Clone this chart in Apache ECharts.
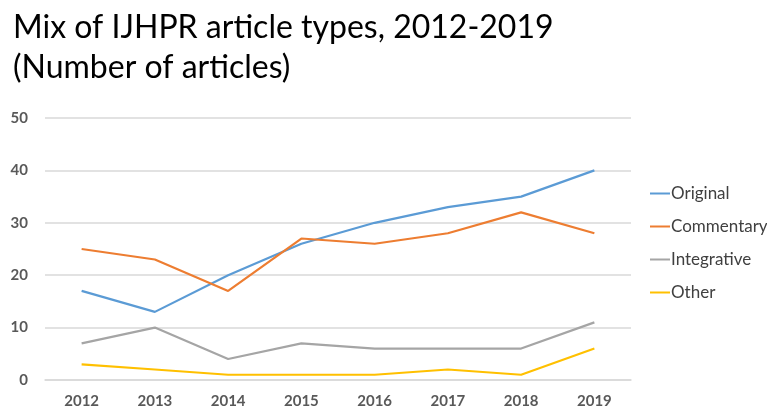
<!DOCTYPE html>
<html><head><meta charset="utf-8">
<script src="https://cdn.jsdelivr.net/npm/echarts@6/dist/echarts.min.js"></script>
<style>html,body{margin:0;padding:0;background:#fff}#c{width:767px;height:412px}</style>
</head><body><div id="c"></div>
<script>
const years = ['2012','2013','2014','2015','2016','2017','2018','2019'];
const original = [17,13,20,26,30,33,35,40];
const commentary = [25,23,17,27,26,28,32,28];
const integrative = [7,10,4,7,6,6,6,11];
const other = [3,2,1,1,1,2,1,6];
const yTicks = [0,10,20,30,40,50];

const chart = echarts.init(document.getElementById('c'));
const mk = (name, data, color) => ({name, type:'line', data, symbol:'none', lineStyle:{width:2.2, color}, itemStyle:{color}});
chart.setOption({
  animation:false,
  title:{text:'Mix of IJHPR article types, 2012-2019\n(Number of articles)', left:8, top:3,
    textStyle:{fontFamily:'Lato', fontSize:32, fontWeight:'normal', color:'#000', lineHeight:40}},
  legend:{orient:'vertical', left:645, top:180, itemGap:16, itemWidth:20, itemHeight:2,
    icon:'rect', textStyle:{fontFamily:'Lato', fontSize:17, color:'#404040', padding:[0,0,0,-4]},
    data:['Original','Commentary','Integrative','Other']},
  grid:{left:45, right:136, top:118, bottom:32},
  xAxis:{type:'category', data:years, boundaryGap:true,
    axisLine:{lineStyle:{color:'#d9d9d9', width:1.5}}, axisTick:{show:false},
    axisLabel:{fontFamily:'Lato', fontSize:15, fontWeight:'bold', color:'#595959', margin:14}},
  yAxis:{type:'value', min:yTicks[0], max:yTicks[yTicks.length-1], interval:10,
    axisLine:{show:false}, axisTick:{show:false},
    splitLine:{lineStyle:{color:'#d9d9d9', width:1.5}},
    axisLabel:{fontFamily:'Lato', fontSize:15, fontWeight:'bold', color:'#595959', margin:17}},
  series:[mk('Original',original,'#5b9bd5'), mk('Commentary',commentary,'#ed7d31'),
    mk('Integrative',integrative,'#a5a5a5'), mk('Other',other,'#ffc000')]
});
</script></body></html>
